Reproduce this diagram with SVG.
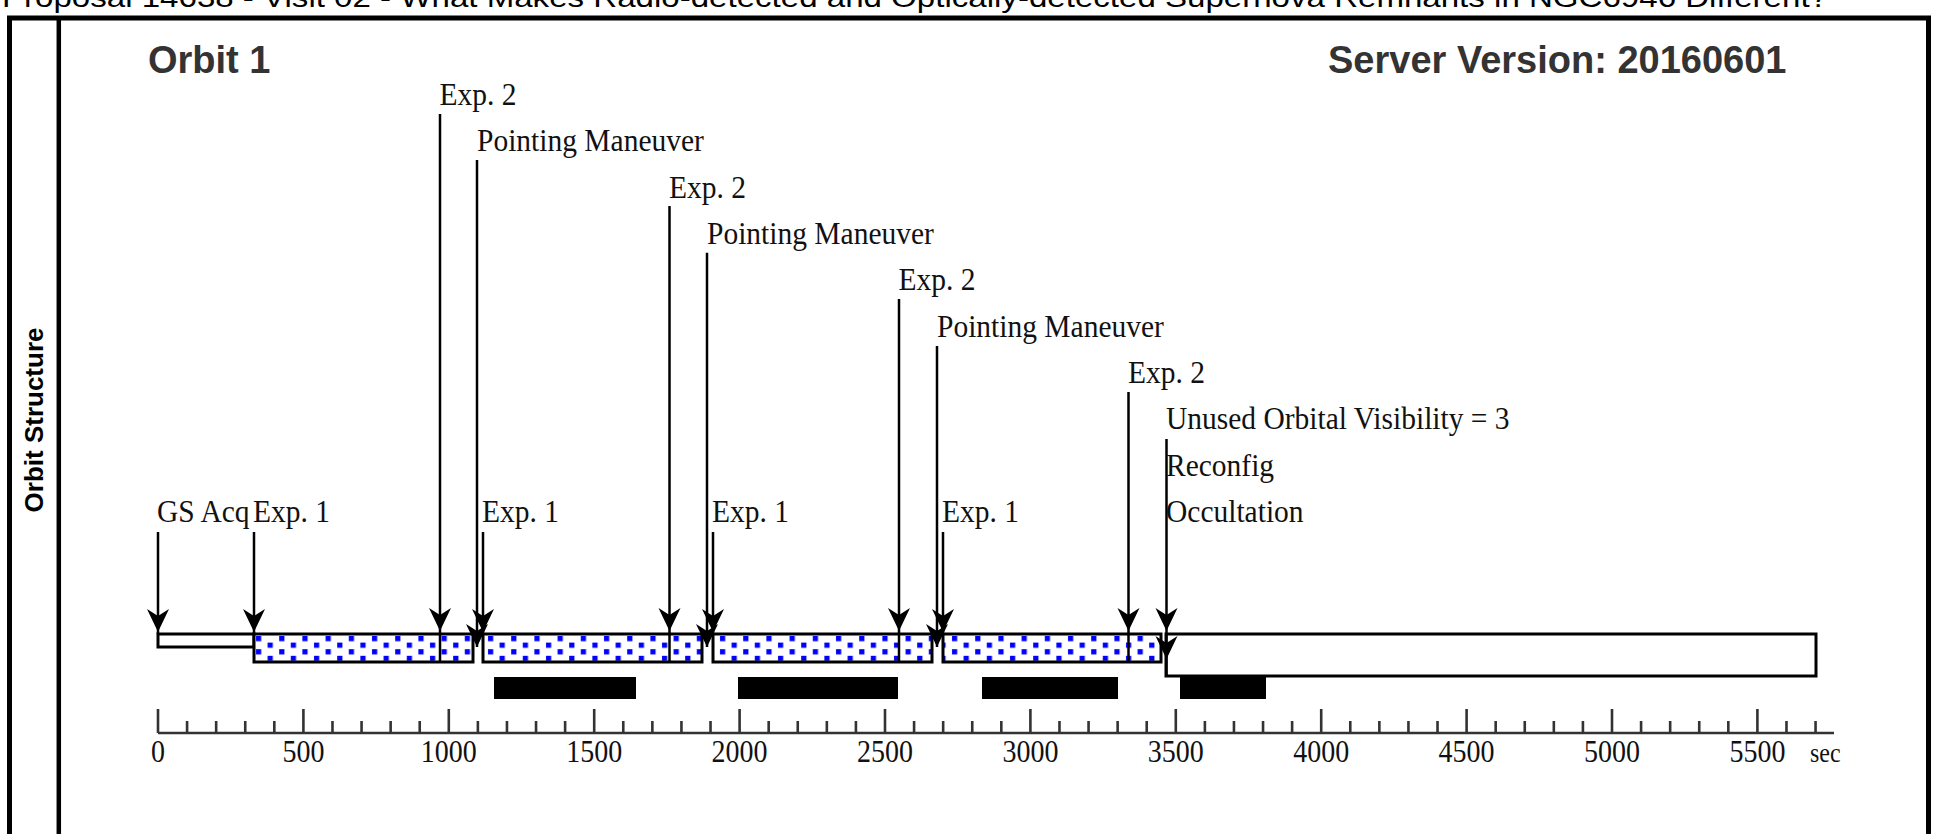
<svg xmlns="http://www.w3.org/2000/svg" xmlns:xlink="http://www.w3.org/1999/xlink" width="1937" height="834" viewBox="0 0 1937 834">
<style>
.lbl{font-family:"Liberation Serif","Times New Roman",serif;font-size:29.5px;fill:#111}
.num{font-family:"Liberation Serif","Times New Roman",serif;font-size:28px;fill:#111;text-anchor:middle}
.hdr{font-family:"Liberation Sans",Arial,sans-serif;font-weight:bold;font-size:38px;fill:#333}
.frame{stroke:#000;fill:none}
.ln{stroke:#000;stroke-width:2.5;fill:none}
.bar{stroke:#000;stroke-width:3}
.blk{fill:#000}
.ax{stroke:#333;stroke-width:2.6;fill:none}
</style>
<defs>
<pattern id="dots" patternUnits="userSpaceOnUse" x="254" y="636" width="23.2" height="13.2">
<rect width="23.2" height="13.2" fill="#fff"/>
<rect x="2" y="0" width="5.2" height="5.2" fill="#00f"/>
<rect x="13.6" y="6.6" width="5.2" height="5.2" fill="#00f"/>
</pattern>
<path id="ah" d="M0,0 L-11,-23 L0,-16 L11,-23 Z" fill="#000"/>
</defs>
<rect width="1937" height="834" fill="#fff"/>

<g id="page-title">
<text x="2" y="7" font-family="Liberation Sans, Arial, sans-serif" font-size="27" fill="#000" textLength="1826" lengthAdjust="spacingAndGlyphs">Proposal 14638 - Visit 02 - What Makes Radio-detected and Optically-detected Supernova Remnants in NGC6946 Different?</text>
</g>

<g id="frame">
<path class="frame" stroke-width="5" d="M9.5,834 V18 H1928.5 V834"/>
<path class="frame" stroke-width="4.5" d="M58.8,18 V834"/>
<text transform="translate(43,420) rotate(-90)" text-anchor="middle" font-family="Liberation Sans, Arial, sans-serif" font-weight="bold" font-size="26" fill="#000">Orbit Structure</text>
</g>

<g id="header">
<text class="hdr" x="148" y="73">Orbit 1</text>
<text class="hdr" x="1328" y="73">Server Version: 20160601</text>
</g>

<g id="bars">
<rect id="bar-gsacq" class="bar" x="158" y="634" width="96" height="13" fill="#fff"/>
<rect id="bar-exp-a" class="bar" x="254" y="634" width="219" height="28" fill="url(#dots)"/>
<rect id="bar-exp-b" class="bar" x="483" y="634" width="219" height="28" fill="url(#dots)"/>
<rect id="bar-exp-c" class="bar" x="713" y="634" width="219" height="28" fill="url(#dots)"/>
<rect id="bar-exp-d" class="bar" x="943" y="634" width="218" height="28" fill="url(#dots)"/>
<rect id="bar-occ" class="bar" x="1166" y="634" width="650" height="42" fill="#fff"/>
</g>

<g id="visibility">
<rect class="blk" x="494" y="677" width="142" height="22"/>
<rect class="blk" x="738" y="677" width="160" height="22"/>
<rect class="blk" x="982" y="677" width="136" height="22"/>
<rect class="blk" x="1180" y="677" width="86" height="22"/>
</g>

<g id="connectors">
<path class="ln" d="M158,532V634 M254,532V634 M483,532V634 M713,532V634 M943,532V634"/>
<path class="ln" d="M440,114V662 M669.5,206V662 M899,299V662 M1128.5,392V662"/>
<path class="ln" d="M477,160V647 M707,252.7V647 M937,346V647"/>
<path class="ln" d="M1166.5,439V676"/>
<use xlink:href="#ah" x="158" y="632"/>
<use xlink:href="#ah" x="254" y="632"/>
<use xlink:href="#ah" x="483" y="632"/>
<use xlink:href="#ah" x="713" y="632"/>
<use xlink:href="#ah" x="943" y="632"/>
<use xlink:href="#ah" x="440" y="631"/>
<use xlink:href="#ah" x="669.5" y="631"/>
<use xlink:href="#ah" x="899" y="631"/>
<use xlink:href="#ah" x="1128.5" y="631"/>
<use xlink:href="#ah" x="477" y="647"/>
<use xlink:href="#ah" x="707" y="647"/>
<use xlink:href="#ah" x="937" y="647"/>
<use xlink:href="#ah" x="1166.5" y="631"/>
<use xlink:href="#ah" x="1166.5" y="659"/>
</g>

<g id="ev-gsacq"><text class="lbl" transform="translate(157,522) scale(1,1.1)">GS Acq</text></g>
<g id="ev-exp1-a"><text class="lbl" transform="translate(253,522) scale(1,1.1)">Exp. 1</text></g>
<g id="ev-exp2-a"><text class="lbl" transform="translate(439.5,105) scale(1,1.1)">Exp. 2</text></g>
<g id="ev-pm-a"><text class="lbl" transform="translate(477,151.3) scale(1,1.1)">Pointing Maneuver</text></g>
<g id="ev-exp1-b"><text class="lbl" transform="translate(482,522) scale(1,1.1)">Exp. 1</text></g>
<g id="ev-exp2-b"><text class="lbl" transform="translate(669,197.6) scale(1,1.1)">Exp. 2</text></g>
<g id="ev-pm-b"><text class="lbl" transform="translate(707,244) scale(1,1.1)">Pointing Maneuver</text></g>
<g id="ev-exp1-c"><text class="lbl" transform="translate(712,522) scale(1,1.1)">Exp. 1</text></g>
<g id="ev-exp2-c"><text class="lbl" transform="translate(898.5,290.3) scale(1,1.1)">Exp. 2</text></g>
<g id="ev-pm-c"><text class="lbl" transform="translate(937,336.6) scale(1,1.1)">Pointing Maneuver</text></g>
<g id="ev-exp1-d"><text class="lbl" transform="translate(942,522) scale(1,1.1)">Exp. 1</text></g>
<g id="ev-exp2-d"><text class="lbl" transform="translate(1128,383) scale(1,1.1)">Exp. 2</text></g>
<g id="ev-unused"><text class="lbl" transform="translate(1166,429.3) scale(1,1.1)">Unused Orbital Visibility = 3</text></g>
<g id="ev-reconfig"><text class="lbl" transform="translate(1166,475.6) scale(1,1.1)">Reconfig</text></g>
<g id="ev-occ"><text class="lbl" transform="translate(1166,522) scale(1,1.1)">Occultation</text></g>

<g id="axis">
<path class="ax" d="M158,733H1834"/>
<path class="ax" d="M158,709V733 M303.4,709V733 M448.8,709V733 M594.2,709V733 M739.6,709V733 M885,709V733 M1030.4,709V733 M1175.8,709V733 M1321.2,709V733 M1466.6,709V733 M1612,709V733 M1757.4,709V733"/>
<path class="ax" d="M187.08,721V733 M216.16,721V733 M245.24,721V733 M274.32,721V733 M332.48,721V733 M361.56,721V733 M390.64,721V733 M419.72,721V733 M477.88,721V733 M506.96,721V733 M536.04,721V733 M565.12,721V733 M623.28,721V733 M652.36,721V733 M681.44,721V733 M710.52,721V733 M768.68,721V733 M797.76,721V733 M826.84,721V733 M855.92,721V733 M914.08,721V733 M943.16,721V733 M972.24,721V733 M1001.32,721V733 M1059.48,721V733 M1088.56,721V733 M1117.64,721V733 M1146.72,721V733 M1204.88,721V733 M1233.96,721V733 M1263.04,721V733 M1292.12,721V733 M1350.28,721V733 M1379.36,721V733 M1408.44,721V733 M1437.52,721V733 M1495.68,721V733 M1524.76,721V733 M1553.84,721V733 M1582.92,721V733 M1641.08,721V733 M1670.16,721V733 M1699.24,721V733 M1728.32,721V733 M1786.48,721V733 M1815.56,721V733"/>
<text class="num" transform="translate(158,762) scale(1,1.15)">0</text>
<text class="num" transform="translate(303.4,762) scale(1,1.15)">500</text>
<text class="num" transform="translate(448.8,762) scale(1,1.15)">1000</text>
<text class="num" transform="translate(594.2,762) scale(1,1.15)">1500</text>
<text class="num" transform="translate(739.6,762) scale(1,1.15)">2000</text>
<text class="num" transform="translate(885,762) scale(1,1.15)">2500</text>
<text class="num" transform="translate(1030.4,762) scale(1,1.15)">3000</text>
<text class="num" transform="translate(1175.8,762) scale(1,1.15)">3500</text>
<text class="num" transform="translate(1321.2,762) scale(1,1.15)">4000</text>
<text class="num" transform="translate(1466.6,762) scale(1,1.15)">4500</text>
<text class="num" transform="translate(1612,762) scale(1,1.15)">5000</text>
<text class="num" transform="translate(1757.4,762) scale(1,1.15)">5500</text>
<text transform="translate(1810,762) scale(1,1.1)" font-family="Liberation Serif, Times New Roman, serif" font-size="24" fill="#111">sec</text>
</g>
</svg>
